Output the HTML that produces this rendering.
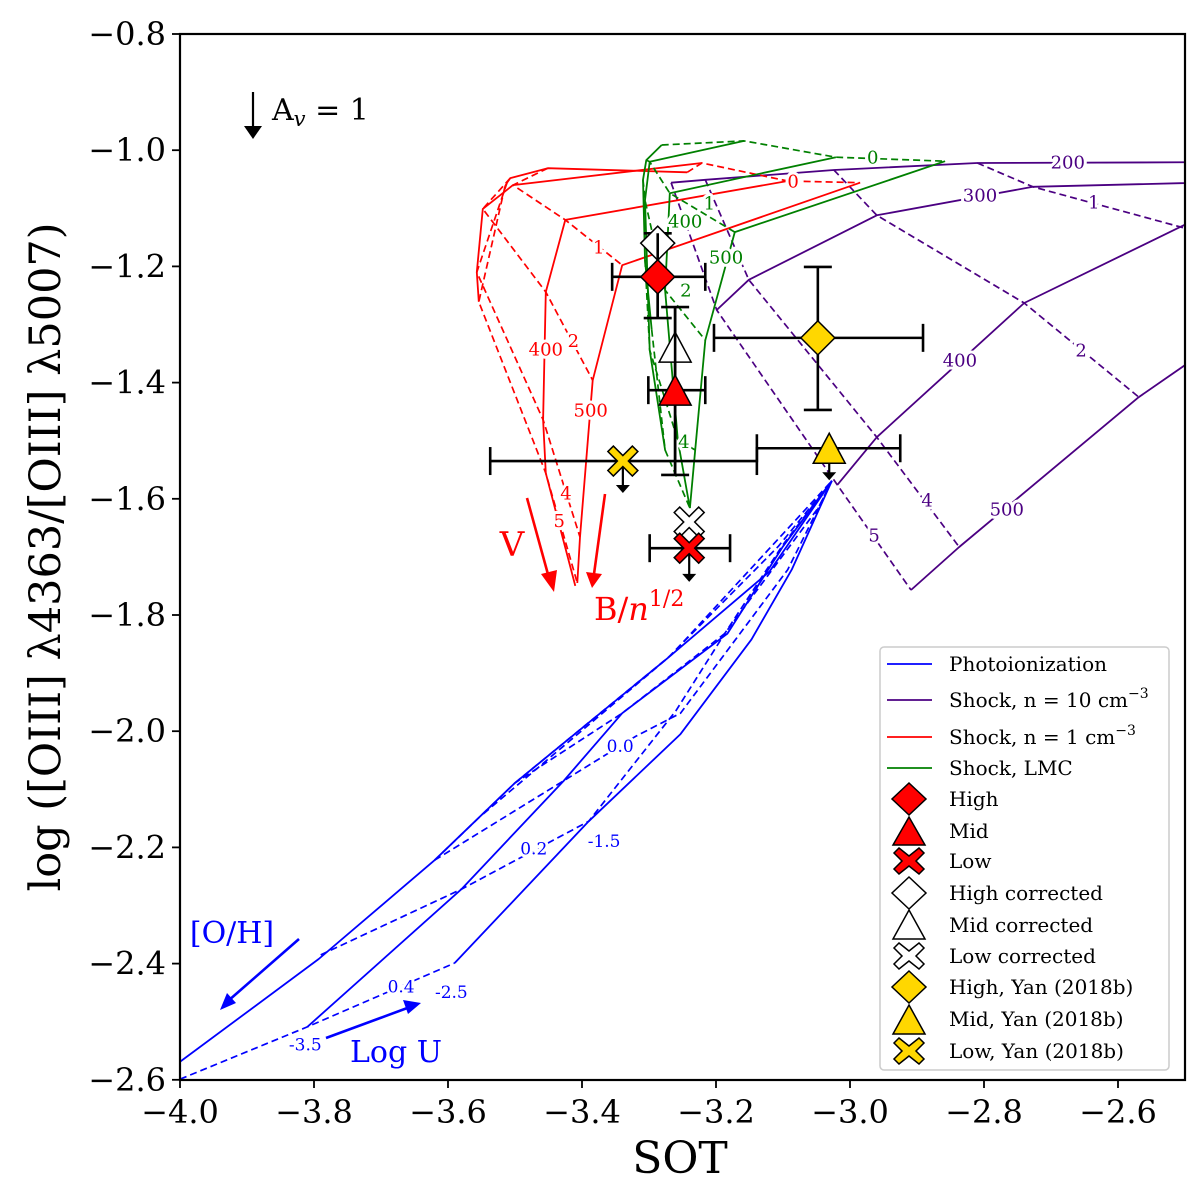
<!DOCTYPE html>
<html><head><meta charset="utf-8">
<style>
html,body{margin:0;padding:0;background:#fff;}
svg{display:block;font-family:"DejaVu Serif","Liberation Serif",serif;}
.lbl{paint-order:stroke;stroke:#fff;stroke-width:6px;stroke-linejoin:round;}
</style></head>
<body>
<svg id="chart" width="1200" height="1200" viewBox="0 0 1200 1200" xmlns="http://www.w3.org/2000/svg">
<defs><clipPath id="plotclip"><rect x="180" y="34" width="1005" height="1046"/></clipPath></defs>
<rect x="0" y="0" width="1200" height="1200" fill="#fff"/>
<g id="plot" clip-path="url(#plotclip)"></g>
<g id="overlay"></g>
<g id="axes"></g>
<g id="legend"></g>
</svg>
<script>
// ---- axis ranges ----
const xTicks = [-4.0,-3.8,-3.6,-3.4,-3.2,-3.0,-2.8,-2.6];
const xTickLabels = ["\u22124.0","\u22123.8","\u22123.6","\u22123.4","\u22123.2","\u22123.0","\u22122.8","\u22122.6"];
const yTicks = [-0.8,-1.0,-1.2,-1.4,-1.6,-1.8,-2.0,-2.2,-2.4,-2.6];
const yTickLabels = ["\u22120.8","\u22121.0","\u22121.2","\u22121.4","\u22121.6","\u22121.8","\u22122.0","\u22122.2","\u22122.4","\u22122.6"];

// ---- photoionization grid ----
const photoSolid = [
 [[-4.0,-2.569],[-3.793,-2.392],[-3.62,-2.222],[-3.5,-2.089],[-3.273,-1.875],[-3.12,-1.725],[-3.027,-1.569]],
 [[-3.81,-2.509],[-3.58,-2.272],[-3.427,-2.085],[-3.34,-1.969],[-3.183,-1.832],[-3.1,-1.682],[-3.027,-1.569]],
 [[-3.59,-2.399],[-3.39,-2.155],[-3.253,-2.005],[-3.147,-1.842],[-3.087,-1.722],[-3.027,-1.569]]
];
const photoDashed = [
 [[-4.0,-2.599],[-3.81,-2.509],[-3.59,-2.399]],
 [[-3.79,-2.385],[-3.58,-2.272],[-3.39,-2.155],[-3.26,-1.965],[-3.187,-1.832],[-3.1,-1.679],[-3.027,-1.569]],
 [[-3.62,-2.222],[-3.427,-2.085],[-3.32,-2.009],[-3.253,-1.969],[-3.093,-1.722],[-3.027,-1.569]],
 [[-3.62,-2.222],[-3.5,-2.089],[-3.34,-1.969],[-3.187,-1.832],[-3.047,-1.615],[-3.027,-1.569]],
 [[-3.547,-2.142],[-3.273,-1.875],[-3.107,-1.682],[-3.027,-1.569]],
 [[-3.5,-2.089],[-3.267,-1.869],[-3.027,-1.569]]
];
const photoLabels = ["0.0","0.2","-1.5","0.4","-2.5","-3.5"];
const photoLabelPos = [[-3.343,-2.025],[-3.472,-2.202],[-3.367,-2.189],[-3.67,-2.439],[-3.595,-2.449],[-3.813,-2.539]];

// ---- shock n=1 (red) ----
const redSolid = [
 [[-3.243,-1.038],[-3.451,-1.031],[-3.507,-1.048],[-3.512,-1.056],[-3.515,-1.063]],
 [[-3.221,-1.022],[-3.503,-1.060],[-3.548,-1.101],[-3.557,-1.210],[-3.554,-1.261]],
 [[-3.093,-1.053],[-3.425,-1.120],[-3.454,-1.244],[-3.458,-1.464],[-3.454,-1.556],[-3.41,-1.75]],
 [[-2.985,-1.056],[-3.340,-1.198],[-3.384,-1.396],[-3.403,-1.666],[-3.407,-1.745]]
];
const redDashed = [
 [[-3.243,-1.038],[-3.221,-1.022],[-3.093,-1.053],[-2.985,-1.056]],
 [[-3.451,-1.031],[-3.503,-1.060],[-3.425,-1.120],[-3.340,-1.198]],
 [[-3.507,-1.048],[-3.548,-1.101],[-3.454,-1.244],[-3.384,-1.396]],
 [[-3.512,-1.056],[-3.557,-1.210],[-3.458,-1.464],[-3.403,-1.666]],
 [[-3.515,-1.063],[-3.554,-1.261],[-3.454,-1.556],[-3.407,-1.745]]
];
const redLabels = ["0","1","2","4","5","400","500"];
const redLabelPos = [[-3.085,-1.053],[-3.375,-1.167],[-3.413,-1.328],[-3.424,-1.590],[-3.434,-1.637],[-3.454,-1.342],[-3.387,-1.447]];

// ---- shock LMC (green) ----
const greenSolid = [
 [[-3.281,-0.991],[-3.304,-1.017],[-3.309,-1.051],[-3.306,-1.189],[-3.296,-1.309]],
 [[-3.158,-0.984],[-3.299,-1.020],[-3.306,-1.086],[-3.299,-1.344],[-3.276,-1.516]],
 [[-3.021,-1.012],[-3.269,-1.074],[-3.276,-1.241],[-3.257,-1.499],[-3.239,-1.616]],
 [[-2.858,-1.019],[-3.172,-1.141],[-3.216,-1.327],[-3.231,-1.516],[-3.239,-1.616]]
];
const greenDashed = [
 [[-3.281,-0.991],[-3.158,-0.984],[-3.021,-1.012],[-2.858,-1.019]],
 [[-3.304,-1.017],[-3.299,-1.020],[-3.269,-1.074],[-3.172,-1.141]],
 [[-3.309,-1.051],[-3.306,-1.086],[-3.276,-1.241],[-3.216,-1.327]],
 [[-3.306,-1.189],[-3.299,-1.344],[-3.257,-1.499],[-3.231,-1.516]],
 [[-3.296,-1.309],[-3.276,-1.516],[-3.239,-1.616]]
];
const greenLabels = ["0","1","2","4","400","500"];
const greenLabelPos = [[-2.966,-1.012],[-3.21,-1.091],[-3.245,-1.241],[-3.248,-1.501],[-3.246,-1.122],[-3.185,-1.184]];

// ---- shock n=10 (purple) ----
const purpleSolid = [
 [[-3.267,-1.056],[-3.216,-1.051],[-3.024,-1.034],[-2.810,-1.022],[-2.3,-1.020]],
 [[-3.199,-1.275],[-3.151,-1.223],[-2.960,-1.112],[-2.727,-1.063],[-2.3,-1.051]],
 [[-3.019,-1.576],[-2.960,-1.494],[-2.740,-1.263],[-2.45,-1.10]],
 [[-2.909,-1.757],[-2.837,-1.683],[-2.569,-1.425],[-2.45,-1.33]]
];
const purpleDashed = [
 [[-3.267,-1.056],[-3.199,-1.275],[-3.019,-1.576],[-2.909,-1.757]],
 [[-3.216,-1.051],[-3.151,-1.223],[-2.960,-1.494],[-2.837,-1.683]],
 [[-3.024,-1.034],[-2.960,-1.112],[-2.740,-1.263],[-2.569,-1.425]],
 [[-2.810,-1.022],[-2.727,-1.063],[-2.45,-1.15]]
];
const purpleLabels = ["1","2","4","5","200","300","400","500"];
const purpleLabelPos = [[-2.636,-1.089],[-2.655,-1.344],[-2.885,-1.602],[-2.964,-1.662],[-2.675,-1.020],[-2.806,-1.077],[-2.836,-1.361],[-2.766,-1.618]];

// ---- observed points ----
const obsNames = ["high","mid","low"];
const obsX = [-3.287,-3.261,-3.240];
const obsY = [-1.218,-1.413,-1.685];
const obsXLo = [-3.355,-3.301,-3.299];
const obsXHi = [-3.216,-3.216,-3.179];
const corrY = [-1.160,-1.339,-1.640];
const obsYLo = [-1.289,-1.559,null];
const obsYHi = [-1.143,-1.270,null];
const obsLimitTo = [null,null,-1.743];

const yanX = [-3.048,-3.031,-3.339];
const yanY = [-1.323,-1.513,-1.535];
const yanXLo = [-3.203,-3.139,-3.537];
const yanXHi = [-2.891,-2.925,-3.139];
const yanYLo = [-1.447,null,null];
const yanYHi = [-1.201,null,null];
const yanLimitTo = [null,-1.568,-1.590];

// ---- scales ----
const X = v => 180 + (v + 4.0) * 670;
const Y = v => 34 + (-0.8 - v) * 581;
const NS = "http://www.w3.org/2000/svg";
function mk(tag, attrs, parent){ const e=document.createElementNS(NS,tag); for(const k in attrs) e.setAttribute(k,attrs[k]); parent.appendChild(e); return e; }
const plot=document.getElementById('plot'), overlay=document.getElementById('overlay'), axes=document.getElementById('axes'), legend=document.getElementById('legend');

function poly(pts,color,dashed,parent,name){
  const d=pts.map((p,i)=>(i?'L':'M')+X(p[0]).toFixed(1)+' '+Y(p[1]).toFixed(1)).join(' ');
  const e=mk('path',{d:d,fill:'none',stroke:color,'stroke-width':dashed?1.7:1.8,'stroke-dasharray':dashed?'7 4':'none','stroke-linejoin':'round'},parent);
  
  
}
function labels(texts,pos,color,size,name){
  texts.forEach((t,i)=>{
    const e=mk('text',{x:X(pos[i][0]),y:Y(pos[i][1])+size*0.36,'text-anchor':'middle','font-size':size,fill:color,class:'lbl'},plot);
    e.textContent=t;
    
    
  });
}
const BLUE='#0000ff', PURP='#4b0082', RED='#ff0000', GREEN='#008000', GOLD='#ffd700';
photoSolid.forEach(l=>poly(l,BLUE,false,plot,'photoionization-line'));
photoDashed.forEach(l=>poly(l,BLUE,true,plot,'photoionization-dashed-line'));
purpleSolid.forEach(l=>poly(l,PURP,false,plot,'shock-n10-velocity-line'));
purpleDashed.forEach(l=>poly(l,PURP,true,plot,'shock-n10-field-line'));
redSolid.forEach(l=>poly(l,RED,false,plot,'shock-n1-velocity-line'));
redDashed.forEach(l=>poly(l,RED,true,plot,'shock-n1-field-line'));
greenSolid.forEach(l=>poly(l,GREEN,false,plot,'shock-lmc-velocity-line'));
greenDashed.forEach(l=>poly(l,GREEN,true,plot,'shock-lmc-field-line'));
labels(photoLabels,photoLabelPos,BLUE,17,'photoionization-grid-label');
labels(purpleLabels,purpleLabelPos,PURP,18,'shock-n10-grid-label');
labels(redLabels,redLabelPos,RED,18,'shock-n1-grid-label');
labels(greenLabels,greenLabelPos,GREEN,18,'shock-lmc-grid-label');

// ---- markers ----
function marker(kind,cx,cy,fill,parent,s){
  s=s||1; let e;
  if(kind==='d'){ const r=17*s; e=mk('path',{d:`M${cx} ${cy-r} L${cx+r} ${cy} L${cx} ${cy+r} L${cx-r} ${cy} Z`},parent); }
  else if(kind==='t'){ const w=16*s,h=15*s; e=mk('path',{d:`M${cx} ${cy-h} L${cx+w} ${cy+h} L${cx-w} ${cy+h} Z`},parent); }
  else { const a=15*s,b=5.5*s; e=mk('path',{d:`M${cx-a+b} ${cy-a} L${cx} ${cy-b} L${cx+a-b} ${cy-a} L${cx+a} ${cy-a+b} L${cx+b} ${cy} L${cx+a} ${cy+a-b} L${cx+a-b} ${cy+a} L${cx} ${cy+b} L${cx-a+b} ${cy+a} L${cx-a} ${cy+a-b} L${cx-b} ${cy} L${cx-a} ${cy-a+b} Z`},parent); }
  e.setAttribute('fill',fill); e.setAttribute('stroke','#000'); e.setAttribute('stroke-width',1.5); e.setAttribute('stroke-linejoin','miter');
  return e;
}
function ln(x1,y1,x2,y2,parent,w){ return mk('line',{x1:x1,y1:y1,x2:x2,y2:y2,stroke:'#000','stroke-width':w||2.6},parent); }
function downArrow(cx,y1,y2,parent){
  ln(cx,y1,cx,y2-6,parent,2.2);
  const h=mk('path',{d:`M${cx-7} ${y2-8} L${cx+7} ${y2-8} L${cx} ${y2} Z`,fill:'#000'},parent);
  
  
}
function errbars(cx,cy,xlo,xhi,ylo,yhi,parent){
  ln(X(xlo),cy,X(xhi),cy,parent); ln(X(xlo),cy-14,X(xlo),cy+14,parent); ln(X(xhi),cy-14,X(xhi),cy+14,parent);
  if(ylo!==null){ ln(cx,Y(ylo),cx,Y(yhi),parent); ln(cx-14,Y(ylo),cx+14,Y(ylo),parent); ln(cx-14,Y(yhi),cx+14,Y(yhi),parent); }
}
const kinds=['d','t','x'];
obsNames.forEach((n,i)=>{
  const g=mk('g',{},overlay);
  
  
  const cx=X(obsX[i]), cy=Y(obsY[i]);
  errbars(cx,cy,obsXLo[i],obsXHi[i],obsYLo[i],obsYHi[i],g);
  if(obsLimitTo[i]!==null) downArrow(cx,cy,Y(obsLimitTo[i]),g);
  const c=marker(kinds[i],cx,Y(corrY[i]),'#fff',g);
  
  
  if(obsYLo[i]!==null){ ln(cx,Y(obsYLo[i]),cx,Y(obsYHi[i]),g); }
  const m=marker(kinds[i],cx,cy,RED,g);
  
  
});
obsNames.forEach((n,i)=>{
  const g=mk('g',{},overlay);
  
  
  const cx=X(yanX[i]), cy=Y(yanY[i]);
  errbars(cx,cy,yanXLo[i],yanXHi[i],yanYLo[i],yanYHi[i],g);
  if(yanLimitTo[i]!==null) downArrow(cx,cy,Y(yanLimitTo[i]),g);
  const m=marker(kinds[i],cx,cy,GOLD,g);
  
  
});

// ---- axes ----
mk('rect',{x:180,y:34,width:1005,height:1046,fill:'none',stroke:'#000','stroke-width':2.2},axes);
xTicks.forEach((v,i)=>{
  ln(X(v),1080,X(v),1088,axes,1.8);
  const t=mk('text',{x:X(v),y:1123,'text-anchor':'middle','font-size':32,fill:'#000'},axes);
  t.textContent=xTickLabels[i];
  
  
});
yTicks.forEach((v,i)=>{
  ln(172,Y(v),180,Y(v),axes,1.8);
  const t=mk('text',{x:166,y:Y(v)+11,'text-anchor':'end','font-size':32,fill:'#000'},axes);
  t.textContent=yTickLabels[i];
  
  
});
</script>
<!-- static annotations -->
<svg style="position:absolute;left:0;top:0" width="1200" height="1200" viewBox="0 0 1200 1200" xmlns="http://www.w3.org/2000/svg" font-family="DejaVu Serif, Liberation Serif, serif">
<text x="680" y="1173" text-anchor="middle" font-size="44">SOT</text>
<text transform="translate(60,557) rotate(-90)" text-anchor="middle" font-size="43">log ([OIII] λ4363/[OIII] λ5007)</text>
<g>
<line x1="253" y1="92" x2="253" y2="128" stroke="#000" stroke-width="2.2"/>
<path d="M244 126 L262 126 L253 139 Z" fill="#000"/>
<text x="272" y="120" font-size="30">A<tspan font-size="21" font-style="italic" dy="6">v</tspan><tspan dy="-6"> = 1</tspan></text>
</g>
<g>
<line x1="527" y1="498" x2="549" y2="578" stroke="#ff0000" stroke-width="2.6"/>
<path d="M541 574 L557 570 L554 592 Z" fill="#ff0000"/>
<text x="512" y="556" text-anchor="middle" font-size="34" fill="#ff0000">V</text>
</g>
<g>
<line x1="605" y1="494" x2="594" y2="574" stroke="#ff0000" stroke-width="2.6"/>
<path d="M586 572 L602 574 L592 588 Z" fill="#ff0000"/>
<text x="594" y="620" font-size="32" fill="#ff0000">B/<tspan font-style="italic">n</tspan><tspan font-size="22" dy="-14">1/2</tspan></text>
</g>
<g>
<line x1="299" y1="939" x2="228" y2="1001" stroke="#0000ff" stroke-width="2.6"/>
<path d="M220 1010 L227 993 L236 1003 Z" fill="#0000ff"/>
<text x="232" y="943" text-anchor="middle" font-size="30" fill="#0000ff">[O/H]</text>
</g>
<g>
<line x1="326" y1="1038" x2="410" y2="1007" stroke="#0000ff" stroke-width="2.6"/>
<path d="M421 1003 L403 1000 L408 1014 Z" fill="#0000ff"/>
<text x="396" y="1062" text-anchor="middle" font-size="30" fill="#0000ff">Log U</text>
</g>
<g font-size="20">
<rect x="880" y="647" width="289" height="423" rx="4" fill="#fff" fill-opacity="0.85" stroke="#ccc" stroke-width="1.5"/>
<line x1="887" y1="664" x2="932" y2="664" stroke="#0000ff" stroke-width="1.8"/><text x="949" y="671">Photoionization</text>
<line x1="887" y1="700" x2="932" y2="700" stroke="#4b0082" stroke-width="1.8"/><text x="949" y="707">Shock, n = 10 cm<tspan font-size="14" dy="-9">−3</tspan></text>
<line x1="887" y1="737" x2="932" y2="737" stroke="#ff0000" stroke-width="1.8"/><text x="949" y="744">Shock, n = 1 cm<tspan font-size="14" dy="-9">−3</tspan></text>
<line x1="887" y1="768" x2="932" y2="768" stroke="#008000" stroke-width="1.8"/><text x="949" y="775">Shock, LMC</text>
<path d="M909 783 L926 799 L909 815 L892 799 Z" fill="#ff0000" stroke="#000" stroke-width="1.5"/><text x="949" y="806">High</text>
<path d="M909 817 L925 845 L893 845 Z" fill="#ff0000" stroke="#000" stroke-width="1.5"/><text x="949" y="838">Mid</text>
<path d="M899 848 L909 856 L919 848 L924 853 L916 861 L924 869 L919 874 L909 866 L899 874 L894 869 L902 861 L894 853 Z" fill="#ff0000" stroke="#000" stroke-width="1.5"/><text x="949" y="868">Low</text>
<path d="M909 877 L926 893 L909 909 L892 893 Z" fill="#fff" stroke="#000" stroke-width="1.5"/><text x="949" y="900">High corrected</text>
<path d="M909 910 L925 939 L893 939 Z" fill="#fff" stroke="#000" stroke-width="1.5"/><text x="949" y="932">Mid corrected</text>
<path d="M899 943 L909 951 L919 943 L924 948 L916 956 L924 964 L919 969 L909 961 L899 969 L894 964 L902 956 L894 948 Z" fill="#fff" stroke="#000" stroke-width="1.5"/><text x="949" y="963">Low corrected</text>
<path d="M909 971 L926 987 L909 1003 L892 987 Z" fill="#ffd700" stroke="#000" stroke-width="1.5"/><text x="949" y="994">High, Yan (2018b)</text>
<path d="M909 1005 L925 1034 L893 1034 Z" fill="#ffd700" stroke="#000" stroke-width="1.5"/><text x="949" y="1026">Mid, Yan (2018b)</text>
<path d="M899 1038 L909 1046 L919 1038 L924 1043 L916 1051 L924 1059 L919 1064 L909 1056 L899 1064 L894 1059 L902 1051 L894 1043 Z" fill="#ffd700" stroke="#000" stroke-width="1.5"/><text x="949" y="1058">Low, Yan (2018b)</text>
</g>
</svg>
</body></html>
